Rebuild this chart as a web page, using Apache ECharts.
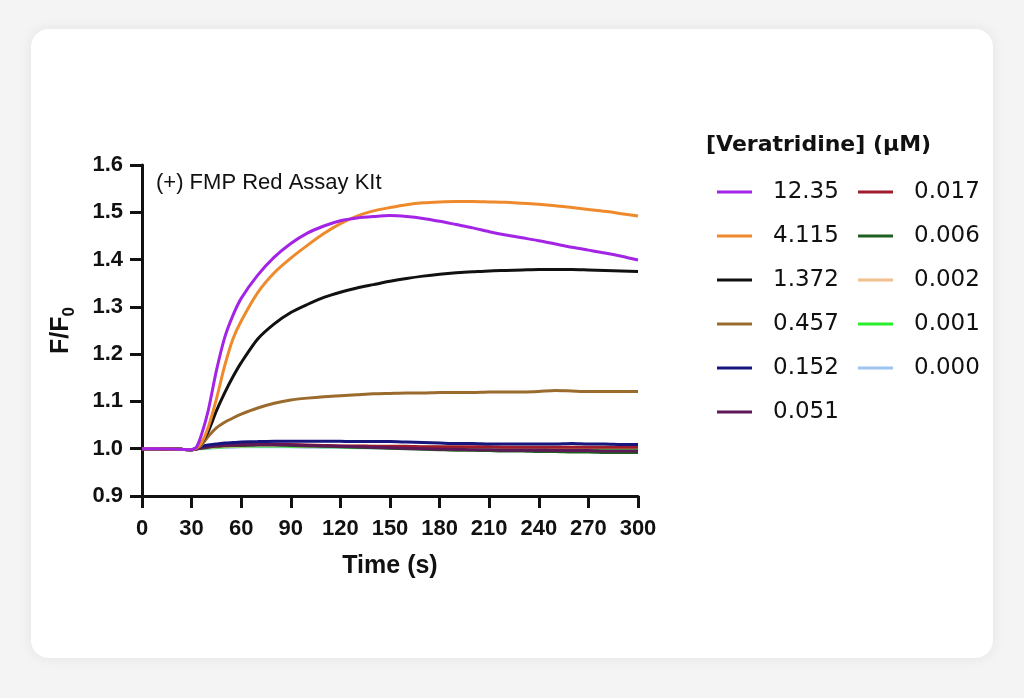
<!DOCTYPE html>
<html>
<head>
<meta charset="utf-8">
<script src="https://cdn.jsdelivr.net/npm/echarts@6/dist/echarts.min.js"></script>
<style>
  html, body { margin: 0; padding: 0; width: 1024px; height: 698px; background: #f4f4f4; overflow: hidden; }
  .card { position: absolute; left: 31px; top: 29px; width: 962px; height: 629px; background: #ffffff; border-radius: 18px; box-shadow: 0 0 14px rgba(0,0,0,0.07); }
  #chart { position: absolute; left: 0; top: 0; width: 1024px; height: 698px; }
</style>
</head>
<body>
<div class="card"></div>
<div id="chart"></div>
<script>
// Time points (s)
const times = [0,10,20,30,33,36,40,45,50,55,60,70,80,90,100,110,120,130,140,150,160,170,180,190,200,210,220,230,240,250,260,270,280,290,300];

// F/F0 values per veratridine concentration (µM)
const c12_35 = [1.000,1.000,0.999,0.998,1.004,1.030,1.080,1.165,1.235,1.282,1.318,1.367,1.405,1.434,1.456,1.471,1.482,1.488,1.491,1.493,1.491,1.487,1.481,1.474,1.467,1.459,1.452,1.446,1.440,1.433,1.426,1.420,1.414,1.407,1.399];
const c4_115 = [1.000,1.000,0.999,0.998,1.001,1.012,1.045,1.105,1.175,1.232,1.270,1.330,1.372,1.403,1.430,1.455,1.476,1.492,1.503,1.510,1.516,1.520,1.522,1.523,1.523,1.522,1.521,1.519,1.517,1.514,1.510,1.506,1.502,1.497,1.492];
const c1_372 = [1.000,1.000,0.999,0.998,1.000,1.012,1.036,1.080,1.118,1.152,1.182,1.232,1.264,1.288,1.305,1.320,1.331,1.340,1.347,1.354,1.360,1.365,1.369,1.372,1.374,1.376,1.377,1.378,1.379,1.379,1.379,1.378,1.377,1.376,1.375];
const c0_457 = [1.000,1.000,0.999,0.998,1.000,1.008,1.026,1.044,1.056,1.065,1.073,1.086,1.096,1.103,1.107,1.110,1.112,1.114,1.116,1.117,1.118,1.118,1.119,1.119,1.119,1.120,1.120,1.120,1.121,1.123,1.122,1.121,1.121,1.121,1.121];
const c0_152 = [1.000,1.000,0.999,0.998,1.000,1.005,1.008,1.010,1.012,1.013,1.014,1.015,1.016,1.016,1.016,1.016,1.016,1.015,1.015,1.015,1.014,1.013,1.012,1.011,1.011,1.010,1.010,1.010,1.010,1.010,1.011,1.010,1.010,1.009,1.009];
const c0_051 = [1.000,1.000,0.999,0.998,1.000,1.002,1.004,1.006,1.007,1.008,1.008,1.009,1.009,1.008,1.007,1.006,1.005,1.004,1.003,1.002,1.001,1.000,0.999,0.999,0.998,0.998,0.997,0.997,0.997,0.996,0.996,0.996,0.995,0.995,0.995];
const c0_017 = [1.000,1.000,0.999,0.998,1.000,1.002,1.004,1.006,1.007,1.008,1.009,1.010,1.010,1.009,1.008,1.007,1.006,1.006,1.005,1.005,1.005,1.004,1.004,1.004,1.004,1.004,1.003,1.003,1.003,1.003,1.003,1.003,1.003,1.003,1.003];
const c0_006 = [1.000,1.000,0.999,0.998,1.000,1.001,1.003,1.005,1.006,1.007,1.007,1.008,1.008,1.007,1.006,1.005,1.004,1.003,1.002,1.001,1.000,0.999,0.998,0.997,0.997,0.996,0.995,0.995,0.994,0.994,0.993,0.993,0.992,0.992,0.992];
const c0_002 = [1.000,1.000,0.999,0.998,1.000,1.001,1.003,1.004,1.005,1.006,1.006,1.007,1.007,1.007,1.006,1.006,1.005,1.005,1.005,1.004,1.004,1.004,1.004,1.003,1.003,1.003,1.003,1.003,1.003,1.003,1.003,1.003,1.003,1.003,1.003];
const c0_001 = [1.000,1.000,0.999,0.998,1.000,1.001,1.002,1.003,1.004,1.005,1.005,1.006,1.006,1.005,1.005,1.004,1.004,1.003,1.003,1.002,1.002,1.001,1.001,1.001,1.000,1.000,1.000,1.000,0.999,0.999,0.999,0.999,0.999,0.999,0.999];
const c0_000 = [1.000,1.000,0.999,0.998,1.000,1.000,1.001,1.002,1.003,1.003,1.004,1.004,1.004,1.004,1.003,1.003,1.003,1.002,1.002,1.002,1.001,1.001,1.001,1.001,1.000,1.000,1.000,1.000,1.000,1.000,1.000,1.000,1.000,1.000,1.000];

const seriesNames = ['12.35','4.115','1.372','0.457','0.152','0.051','0.017','0.006','0.002','0.001','0.000'];
const seriesValues = [c12_35,c4_115,c1_372,c0_457,c0_152,c0_051,c0_017,c0_006,c0_002,c0_001,c0_000];
const seriesColors = ['#a424e6','#ef8a2c','#111111','#9a6b2c','#16167e','#5e1858','#9e1c2c','#1f5f1f','#f0c08e','#2bee2b','#a0c4f0'];

const legendTitle = '[Veratridine] (µM)';
const annotation = '(+) FMP Red Assay KIt';
const xTicks = { min: 0, max: 300, interval: 30 };
const yTicks = { min: 0.9, max: 1.6, interval: 0.1 };

const FONT = 'Liberation Sans, Arial, Helvetica, sans-serif';
const LFONT = 'DejaVu Sans, Verdana, sans-serif';

const chart = echarts.init(document.getElementById('chart'), null, { renderer: 'canvas' });

const series = seriesNames.map((name, i) => ({
  name: name,
  type: 'line',
  data: times.map((t, k) => [t, seriesValues[i][k]]),
  showSymbol: false,
  symbol: 'none',
  smooth: 0.25,
  z: 20 - i,
  lineStyle: { width: 3, color: seriesColors[i] },
  itemStyle: { color: seriesColors[i] },
  emphasis: { disabled: true }
}));

const legendCommon = {
  orient: 'vertical',
  icon: 'rect',
  itemWidth: 35,
  itemHeight: 3,
  itemGap: 20,
  selectedMode: false,
  textStyle: { fontFamily: LFONT, fontSize: 23, color: '#111', lineHeight: 24, padding: [0, 0, 0, 16] }
};

chart.setOption({
  animation: false,
  backgroundColor: 'transparent',
  grid: { left: 142, right: 386, top: 165, bottom: 202, containLabel: false },
  xAxis: {
    type: 'value',
    min: xTicks.min, max: xTicks.max, interval: xTicks.interval,
    name: 'Time (s)',
    nameLocation: 'middle',
    nameGap: 58,
    nameTextStyle: { fontFamily: FONT, fontSize: 25, fontWeight: 'bold', color: '#111' },
    axisLine: { onZero: false, lineStyle: { color: '#111', width: 3 } },
    axisTick: { length: 12, lineStyle: { color: '#111', width: 3 } },
    axisLabel: { margin: 22, fontFamily: FONT, fontSize: 22, fontWeight: 'bold', color: '#111' },
    splitLine: { show: false }
  },
  yAxis: {
    type: 'value',
    min: yTicks.min, max: yTicks.max, interval: yTicks.interval,
    name: '{a|F/F}{b|0}',
    nameLocation: 'middle',
    nameGap: 64,
    nameRotate: 90,
    nameTextStyle: {
      rich: {
        a: { fontFamily: FONT, fontSize: 25, fontWeight: 'bold', color: '#111', lineHeight: 34, verticalAlign: 'middle' },
        b: { fontFamily: FONT, fontSize: 17, fontWeight: 'bold', color: '#111', lineHeight: 17, verticalAlign: 'bottom' }
      }
    },
    axisLine: { show: true, onZero: false, lineStyle: { color: '#111', width: 3 } },
    axisTick: { show: true, length: 12, lineStyle: { color: '#111', width: 3 } },
    axisLabel: { margin: 19, fontFamily: FONT, fontSize: 22, fontWeight: 'bold', color: '#111', formatter: v => v.toFixed(1) },
    splitLine: { show: false }
  },
  legend: [
    Object.assign({}, legendCommon, { left: 712, top: 175, data: seriesNames.slice(0, 6) }),
    Object.assign({}, legendCommon, { left: 853, top: 175, data: seriesNames.slice(6) })
  ],
  graphic: [
    { type: 'text', left: 156, top: 172, silent: true,
      style: { text: annotation, font: '22px ' + FONT, fill: '#111' } },
    { type: 'text', left: 706, top: 134, silent: true,
      style: { text: legendTitle, font: 'bold 22px ' + LFONT, fill: '#111' } }
  ],
  series: series
});
</script>
</body>
</html>
